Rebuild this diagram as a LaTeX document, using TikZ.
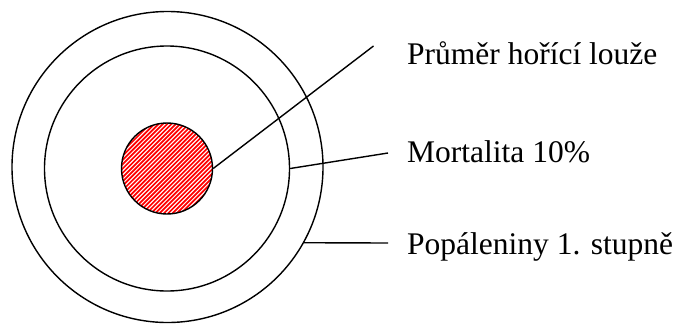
\documentclass[tikz,border=0pt]{standalone}
\usepackage{fontspec}
\setmainfont{Liberation Serif}
\begin{document}
\begin{tikzpicture}[x=1pt,y=-1pt,
  ring/.style={circle,draw=black,line width=1.4pt,inner sep=0pt},
  lead/.style={draw=black,line width=1.4pt},
  lbl/.style={anchor=base west,inner sep=0pt,font=\fontsize{31.5}{36}\selectfont}]
\useasboundingbox[fill=white] (0,0) rectangle (680,325);
% hatched pool
\begin{scope}
  \clip (167,168.5) circle (45.5);
  \foreach \c in {231,235.3,...,440} {
    \draw[red,line width=1.7pt] (100,\c-100) -- (240,\c-240);
  }
\end{scope}
\node[ring,minimum size=91pt] (pool) at (167,168.5) {};
\node[ring,minimum size=245pt] (inner) at (167,168.5) {};
\node[ring,minimum size=311pt] (outer) at (167.5,167) {};
% labels
\node[lbl] (t1) at (407,64) {Průměr hořící louže};
\node[lbl] (t2) at (407,162) {Mortalita 10\%};
\node[lbl] (t3) at (407,254) {Popáleniny 1. stupně};
% leaders
\coordinate (e1) at (373.5,46);
\coordinate (e2) at (388,153);
\coordinate (e3) at (388,243);
\draw[lead] (pool.east) -- (e1);
\draw[lead] (inner.east) -- (e2);
\draw[lead] (outer.-29.3) -- (e3);
\end{tikzpicture}
\end{document}
